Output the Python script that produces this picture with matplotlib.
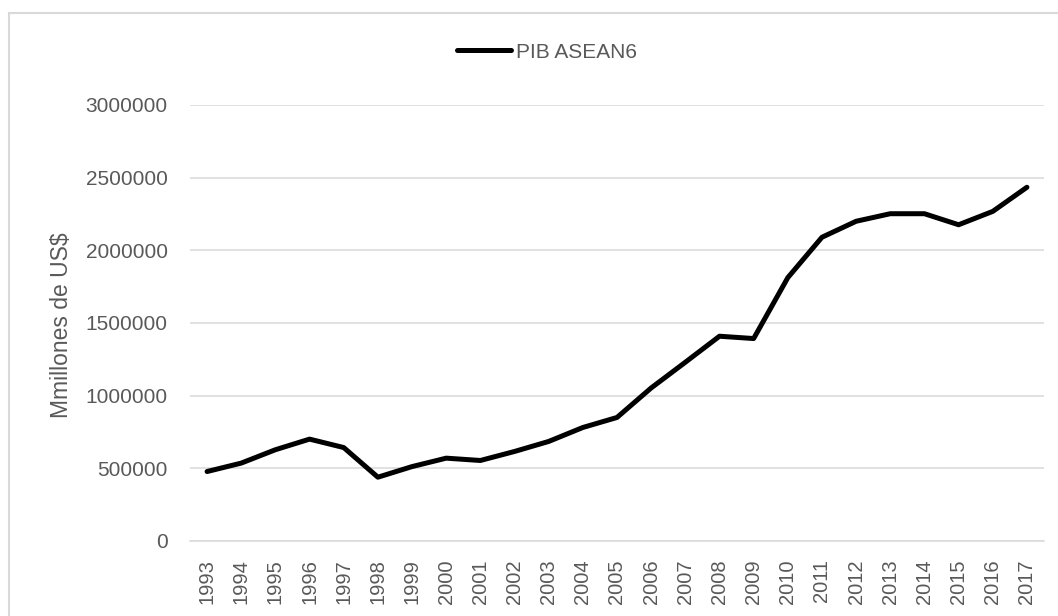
import matplotlib
matplotlib.use("Agg")
import matplotlib.pyplot as plt
from matplotlib.patches import Rectangle

# --- data ---
years = list(range(1993, 2018))
pib_asean6 = [
    478000, 536000, 628000, 701000, 643000, 439000, 512000, 570000, 554000,
    616000, 685000, 781000, 850000, 1053000, 1230000, 1409000, 1393000,
    1812000, 2090000, 2200000, 2252000, 2252000, 2176000, 2268000, 2434000,
]
y_ticks = [0, 500000, 1000000, 1500000, 2000000, 2500000, 3000000]

TEXT_GRAY = "#595959"
GRID_GRAY = "#D9D9D9"
FONT = "Liberation Sans"

plt.rcParams["font.family"] = [FONT, "DejaVu Sans"]

W, H = 1058, 616
fig = plt.figure(figsize=(W / 100, H / 100), dpi=100)
fig.patch.set_facecolor("white")

# outer chart border (light gray, runs off the right and bottom edges)
fig.patches.append(Rectangle((9 / W, -0.2), 2.0, 1 - 13 / H + 0.2,
                             transform=fig.transFigure, fill=False,
                             edgecolor=GRID_GRAY, lw=1.5, clip_on=False))

left, right = 190 / W, 1044 / W
bottom, top = 1 - 541 / H, 1 - 105 / H
ax = fig.add_axes([left, bottom, right - left, top - bottom])

line, = ax.plot(years, pib_asean6, color="black", lw=3.6,
                solid_capstyle="round", solid_joinstyle="round",
                label="PIB ASEAN6", zorder=3)

ax.set_xlim(1992.5, 2017.5)
ax.set_ylim(0, 3000000)
ax.set_yticks(y_ticks)
ax.set_yticklabels([str(v) for v in y_ticks])
ax.set_xticks(years)
ax.set_xticklabels([str(y) for y in years], rotation=90, va="top", ha="center")

ax.grid(axis="y", color=GRID_GRAY, lw=1.1, zorder=0)
ax.grid(axis="x", visible=False)
for side in ["top", "right", "left"]:
    ax.spines[side].set_visible(False)
ax.spines["bottom"].set_color(GRID_GRAY)
ax.spines["bottom"].set_linewidth(1.1)
ax.tick_params(axis="y", length=0, pad=16, labelsize=15, labelcolor=TEXT_GRAY)
ax.tick_params(axis="x", length=0, pad=13, labelsize=14.5, labelcolor=TEXT_GRAY)

fig.text(62 / W, 1 - 325 / H, "Mmillones de US$", rotation=90,
         ha="center", va="center", fontsize=16.5, color=TEXT_GRAY)

leg = fig.legend(handles=[line], loc="center", bbox_to_anchor=(547 / W, 1 - 52 / H),
                 frameon=False, fontsize=15, handlelength=2.6, handletextpad=0.25,
                 borderpad=0)
for t in leg.get_texts():
    t.set_color(TEXT_GRAY)

fig.savefig("out.png", dpi=100, facecolor="white")
